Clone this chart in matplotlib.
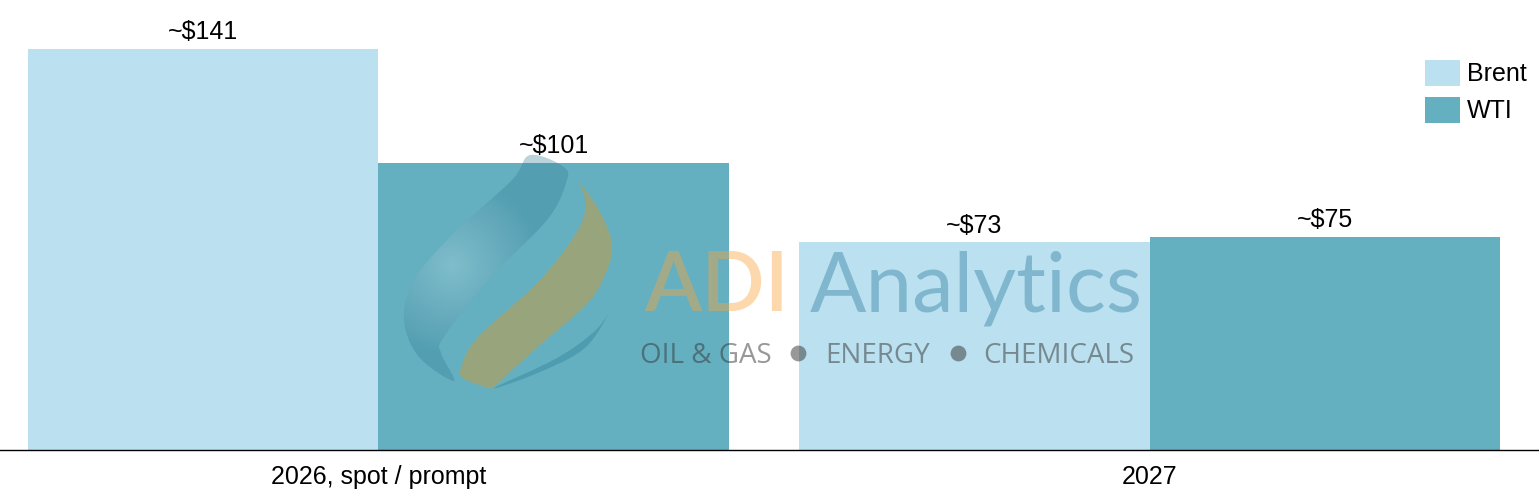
import numpy as np
import matplotlib
matplotlib.use('Agg')
import matplotlib.pyplot as plt
from matplotlib.patches import Polygon

categories = ['2026, spot / prompt', '2027']
brent = [141, 73]
wti = [101, 75]
brent_labels = ['~$141', '~$73']
wti_labels = ['~$101', '~$75']

BRENT_COLOR = '#BBE1F0'
WTI_COLOR = '#64B0C1'
W, H = 1539, 503

plt.rcParams['font.family'] = ['Liberation Sans', 'DejaVu Sans']

fig = plt.figure(figsize=(W / 100, H / 100), dpi=100)
ax = fig.add_axes([0, (H - 450) / H, 1, 450 / H])

x = np.arange(len(categories))
step = 771.4
bar_w = 350.6 / step
b1 = ax.bar(x - bar_w / 2, brent, bar_w, color=BRENT_COLOR, label='Brent')
b2 = ax.bar(x + bar_w / 2, wti, bar_w, color=WTI_COLOR, label='WTI')
ax.bar_label(b1, labels=brent_labels, fontsize=18, padding=3.5)
ax.bar_label(b2, labels=wti_labels, fontsize=18, padding=3.5)

ax.set_xlim(-378.2 / step, (1539 - 378.2) / step)
ax.set_ylim(0, 450 / 2.844)
ax.set_xticks(x, categories, fontsize=18)
ax.tick_params(axis='x', length=0, pad=11)
ax.set_yticks([])
for s in ['top', 'left', 'right']:
    ax.spines[s].set_visible(False)
ax.spines['bottom'].set_linewidth(1)

ax.legend(loc='upper left', bbox_to_anchor=(1425 / W, (450 - 60) / 450), frameon=False, fontsize=18,
          handlelength=1.4, handleheight=1.22, handletextpad=0.28, labelspacing=0.42,
          borderaxespad=0, borderpad=0)

# watermark, overlay in pixel coordinates
wm = fig.add_axes([0, 0, 1, 1], zorder=5)
wm.set_xlim(0, W)
wm.set_ylim(H, 0)
wm.axis('off')
wm.patch.set_alpha(0)


def smooth(pts, n=8):
    # closed catmull-rom so the flame does not look like a polygon
    pts = np.array(pts, dtype=float)
    out = []
    for i in range(len(pts)):
        p0, p1, p2, p3 = pts[i - 1], pts[i], pts[(i + 1) % len(pts)], pts[(i + 2) % len(pts)]
        for t in np.linspace(0, 1, n, endpoint=False):
            out.append(0.5 * (2 * p1 + (p2 - p0) * t + (2 * p0 - 5 * p1 + 4 * p2 - p3) * t ** 2
                              + (3 * p1 - p0 - 3 * p2 + p3) * t ** 3))
    return np.array(out)


gold = [(580, 184), (600, 212), (612, 245), (605, 275), (586, 305), (540, 345), (497, 384), (490, 388),
        (463, 378), (462, 365), (478, 337), (537, 283), (575, 235), (586, 205)]
ribbon = [(530, 155), (564, 167), (566, 183), (547, 220), (488, 280), (444, 337), (441, 353), (454, 381),
          (419, 357), (404, 320), (414, 280), (454, 233), (512, 180)]
sliver = [(612, 307), (586, 347), (540, 372), (494, 388), (557, 358), (596, 330)]

# ribbon shading: pale around the middle, darker towards the ends
gx, gy = np.meshgrid(np.arange(400, 570), np.arange(150, 390))
dist = np.hypot(gx - 452, gy - 265)
shade = np.zeros(gx.shape + (4,))
mix = np.clip(dist / 90, 0, 1)[..., None]
shade[..., :3] = (1 - mix) * np.array([0.72, 0.85, 0.88]) + mix * np.array([0.2, 0.48, 0.58])
shade[..., 3] = 0.33
im = wm.imshow(shade, extent=(400, 570, 390, 150), aspect='auto', interpolation='bilinear', zorder=1)
clip = Polygon(smooth(ribbon), closed=True, transform=wm.transData, fc='none', ec='none')
wm.add_patch(clip)
im.set_clip_path(clip)
wm.set_xlim(0, W)
wm.set_ylim(H, 0)

wm.add_patch(Polygon(smooth(gold), closed=True, fc='#CA9A39', ec='none', alpha=0.5, zorder=2))
wm.add_patch(Polygon(smooth(sliver), closed=True, fc='#2F7F97', ec='none', alpha=0.4, zorder=2))

wm.text(644, 311, 'ADI', fontsize=60, family='Lato', weight='semibold', color='#F9A43A', alpha=0.42, va='baseline', zorder=3)
wm.text(810, 311, 'Analytics', fontsize=60, family='Lato', color='#2F7F9F', alpha=0.42, va='baseline', zorder=3)
wm.text(640, 363, 'OIL & GAS', fontsize=20, family='Open Sans', color='#333333', alpha=0.5, va='baseline', zorder=3)
wm.text(825, 363, 'ENERGY', fontsize=20, family='Open Sans', color='#333333', alpha=0.5, va='baseline', zorder=3)
wm.text(983, 363, 'CHEMICALS', fontsize=20, family='Open Sans', color='#333333', alpha=0.5, va='baseline', zorder=3)
wm.scatter([798, 958], [353, 353], s=130, color='#333333', alpha=0.5, linewidths=0, zorder=3)

fig.savefig('out.png', dpi=100)
